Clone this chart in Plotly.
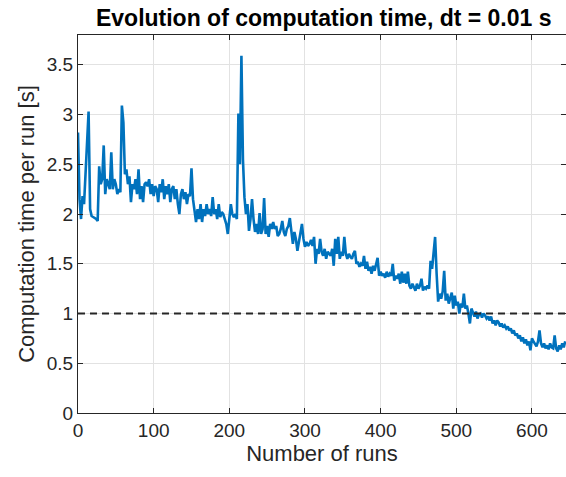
import plotly.graph_objects as go

runs = list(range(0, 645, 2))

comp_time = [
    2.82, 2.15, 1.95, 2.18, 2.10, 2.40, 2.70, 3.03, 2.05, 1.98,
    1.97, 1.96, 1.95, 1.93, 2.48, 2.30, 2.35, 2.69, 2.20, 2.35,
    2.30, 2.25, 2.62, 2.25, 2.35, 2.30, 2.20, 2.25, 2.22, 3.09,
    2.92, 2.40, 2.45, 2.30, 2.38, 2.12, 2.30, 2.25, 2.35, 2.20,
    2.45, 2.15, 2.28, 2.12, 2.30, 2.32, 2.28, 2.35, 2.20, 2.30,
    2.18, 2.28, 2.25, 2.12, 2.30, 2.22, 2.35, 2.15, 2.28, 2.20,
    2.30, 2.12, 2.25, 2.28, 2.15, 2.25, 2.10, 2.00, 2.20, 2.25,
    2.15, 2.22, 2.10, 2.20, 2.18, 2.46, 2.15, 2.00, 1.92, 2.05,
    1.95, 2.10, 1.92, 2.05, 1.98, 2.10, 2.00, 2.05, 1.98, 2.17,
    2.00, 2.05, 1.95, 2.10, 1.97, 2.02, 2.00, 1.95, 1.90, 1.80,
    1.95, 2.10, 2.00, 1.97, 2.00, 1.95, 3.01, 2.50, 3.59, 2.55,
    2.17, 2.00, 2.10, 1.83, 1.95, 2.15, 1.95, 1.82, 1.90, 1.80,
    2.01, 1.80, 1.85, 2.16, 1.80, 1.88, 1.77, 1.90, 1.85, 1.92,
    1.85, 1.88, 1.78, 1.80, 1.85, 1.93, 1.82, 1.78, 1.85, 1.88,
    1.96, 1.85, 1.70, 1.82, 1.75, 1.63, 1.72, 1.80, 1.90, 1.75,
    1.67, 1.72, 1.68, 1.70, 1.74, 1.68, 1.77, 1.50, 1.65, 1.60,
    1.75, 1.62, 1.58, 1.65, 1.55, 1.62, 1.60, 1.58, 1.65, 1.48,
    1.75, 1.60, 1.77, 1.55, 1.62, 1.58, 1.77, 1.60, 1.55, 1.60,
    1.57, 1.55, 1.60, 1.63, 1.50, 1.52, 1.47, 1.50, 1.48, 1.58,
    1.45, 1.52, 1.43, 1.47, 1.40, 1.48, 1.43, 1.50, 1.56, 1.38,
    1.42, 1.38, 1.40, 1.36, 1.42, 1.37, 1.40, 1.38, 1.50, 1.33,
    1.38, 1.35, 1.40, 1.30, 1.42, 1.31, 1.40, 1.30, 1.42, 1.28,
    1.25, 1.30, 1.27, 1.23, 1.30, 1.25, 1.28, 1.35, 1.23, 1.27,
    1.25, 1.28, 1.25, 1.53, 1.45, 1.60, 1.77, 1.40, 1.12, 1.20,
    1.15, 1.22, 1.43, 1.13, 1.20, 1.10, 1.15, 1.21, 1.05, 1.18,
    1.08, 1.12, 1.00, 1.10, 1.06, 1.20, 1.05, 1.08, 1.00, 0.90,
    1.05, 1.00, 0.97, 1.02, 0.95, 0.99, 1.00, 0.96, 1.00, 0.98,
    0.95, 0.97, 0.93, 0.97, 0.90, 0.93, 0.88, 0.93, 0.91, 0.87,
    0.90, 0.86, 0.88, 0.85, 0.87, 0.83, 0.85, 0.80, 0.83, 0.78,
    0.80, 0.75, 0.78, 0.72, 0.76, 0.70, 0.74, 0.68, 0.72, 0.63,
    0.75, 0.72, 0.70, 0.67, 0.72, 0.83, 0.70, 0.66, 0.70, 0.65,
    0.68, 0.64, 0.70, 0.66, 0.65, 0.78, 0.65, 0.62, 0.68, 0.64,
    0.70, 0.66, 0.72,
]

threshold = 1.0
x_range = [0, 645]
y_range = [0, 3.8]
x_ticks = [0, 100, 200, 300, 400, 500, 600]
y_ticks = [0, 0.5, 1, 1.5, 2, 2.5, 3, 3.5]

FONT = "Liberation Sans, Arial, sans-serif"
AXC = "#262626"
GRID = "#e2e2e2"

fig = go.Figure()
fig.add_trace(go.Scatter(
    x=runs, y=comp_time, mode="lines",
    line=dict(color="#0072BD", width=2.6),
    showlegend=False,
))
fig.add_trace(go.Scatter(
    x=x_range, y=[threshold, threshold], mode="lines",
    line=dict(color=AXC, width=2, dash="7px,5px"),
    showlegend=False,
))

axis_common = dict(
    showline=True, linecolor=AXC, linewidth=1, mirror="ticks",
    ticks="inside", ticklen=5, tickcolor=AXC, tickwidth=1,
    showgrid=True, gridcolor=GRID, gridwidth=1, zeroline=False,
    tickfont=dict(family=FONT, size=19, color=AXC),
)

fig.update_layout(
    width=566, height=477,
    margin=dict(l=78, r=0, t=35, b=64),
    paper_bgcolor="white", plot_bgcolor="white",
    title=dict(
        text="<b>Evolution of computation time, dt = 0.01 s</b>",
        font=dict(family=FONT, size=23, color="black"),
        x=0.572, xanchor="center", y=0.962, yanchor="middle", yref="container",
    ),
    xaxis=dict(
        range=x_range, tickvals=x_ticks,
        title=dict(text="Number of runs", font=dict(family=FONT, size=22, color=AXC), standoff=4),
        **axis_common,
    ),
    yaxis=dict(
        range=y_range, tickvals=y_ticks,
        title=dict(text="Computation time per run [s]", font=dict(family=FONT, size=22, color=AXC), standoff=6),
        **axis_common,
    ),
)

fig.write_html("out.html")
